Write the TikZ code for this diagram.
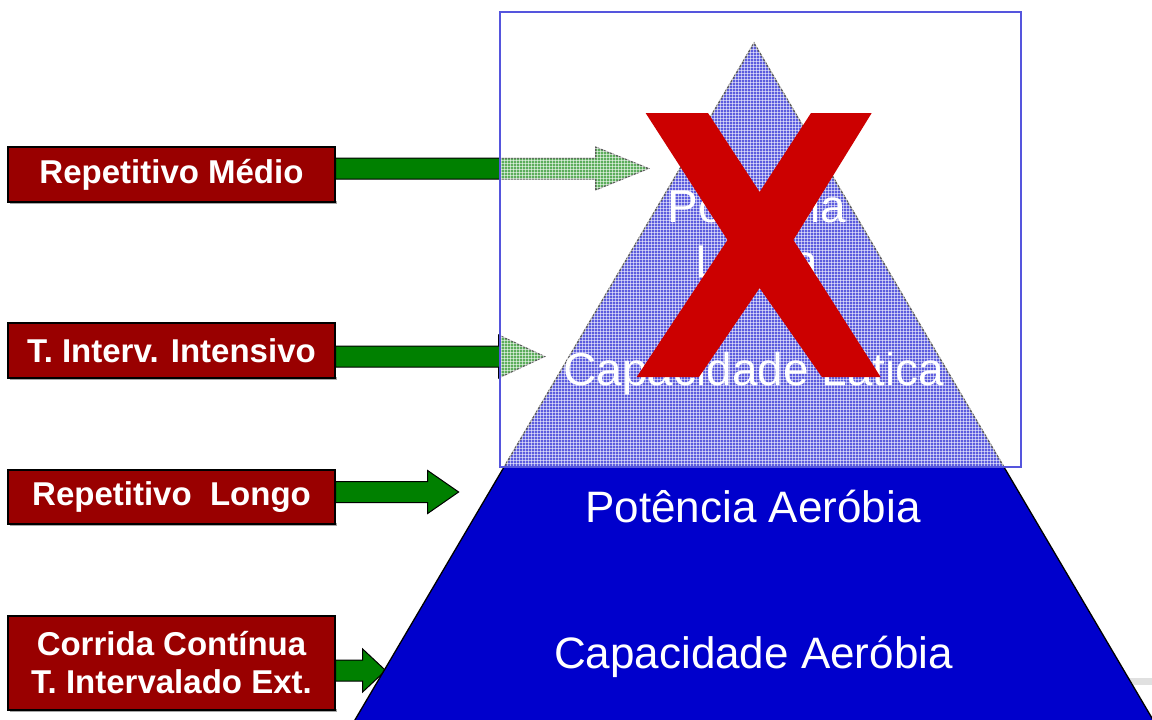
\documentclass[tikz,border=0pt]{standalone}
\usepackage{fontspec}
\setmainfont{Liberation Sans}
\usetikzlibrary{calc}
\definecolor{boxred}{RGB}{153,0,0}
\definecolor{arrgreen}{RGB}{0,128,0}
\definecolor{pyrblue}{RGB}{0,0,204}
\definecolor{framblue}{RGB}{85,85,221}
\definecolor{xred}{RGB}{204,0,0}
\newcommand\blockarr[3]{%
  \draw[blockarrow] ($#1+(0,-10.5)$) -- ++(#2,0) -- ++(0,-11) -- ++(#3,21.5) -- ++(-#3,21.5) -- ++(0,-11) -- ++(-#2,0) -- cycle;}
\begin{document}
\begin{tikzpicture}[x=1pt,y=-1pt,
  labelbox/.style={draw=black, line width=1.3pt, fill=boxred, text=white,
    font=\bfseries\fontsize{33}{38}\selectfont, align=center, inner sep=0pt,
    minimum width=327pt},
  blockarrow/.style={fill=arrgreen, draw=black, line width=1pt, line join=miter},
  pyrtext/.style={text=white, anchor=base, inner sep=0pt, align=center},
  hatchline/.style={white, line width=0.9pt, opacity=0.55}]
\useasboundingbox (0,0) rectangle (1152,720);
\clip (0,0) rectangle (1152,720);
\fill[white] (0,0) rectangle (1152,720);
% faint bar bottom right
\fill[black!12] (1128,678) rectangle (1152,685);
% label box shadows
\foreach \cy/\h in {174.5/55, 350.5/55, 497/54, 663/94}
  \fill[black!35] (10,\cy+\h/2-1) rectangle (337,\cy+\h/2+2);
% label boxes
\node[labelbox, minimum height=55pt] (b1) at (171.5,174.5) {Repetitivo Médio};
\node[labelbox, minimum height=55pt] (b2) at (171.5,350.5) {T. Interv. Intensivo};
\node[labelbox, minimum height=54pt] (b3) at (171.5,497) {Repetitivo\ \ Longo};
\node[labelbox, minimum height=94pt] (b4) at (171.5,663) {Corrida Contínua\\T. Intervalado Ext.};
% arrows
\blockarr{(b1.east)+(0,-6)}{260}{53}
\blockarr{(b2.east)+(0,6)}{163}{46}
\blockarr{(b3.east)+(0,-5)}{92}{31}
\blockarr{(b4.east)+(0,7.5)}{27}{23}
% pyramid
\coordinate (apex) at (754,43);
\coordinate (bl) at (349,730);
\coordinate (br) at (1159,730);
\draw[fill=pyrblue, draw=black, line width=1.3pt, line join=miter] (bl) -- (apex) -- (br) -- cycle;
\node[pyrtext, font=\fontsize{46}{55}\selectfont] (pl) at (757,277) {Potência\\Lática};
\node[pyrtext, font=\fontsize{46}{55}\selectfont] (cl) at (754,385) {Capacidade Lática};
\node[pyrtext, font=\fontsize{44}{52}\selectfont] (pa) at (753,522) {Potência Aeróbia};
\node[pyrtext, font=\fontsize{44}{52}\selectfont] (ca) at (753.5,668) {Capacidade Aeróbia};
% translucent hatched frame
\fill[white, fill opacity=0.36] (500,12) rectangle (1021,467);
\begin{scope}
  \clip (500,12) rectangle (1021,467);
  \draw[hatchline] \foreach \k in {0,...,174} { (501.5+3*\k,12) -- (501.5+3*\k,467) };
  \draw[hatchline] \foreach \k in {0,...,152} { (500,13.5+3*\k) -- (1021,13.5+3*\k) };
\end{scope}
\node[draw=framblue, line width=1.2pt, minimum width=521pt, minimum height=455pt, inner sep=0pt] (frame) at (760.5,239.5) {};
% red X
\fill[xred] (645.6,113) -- (708,113) -- (759.6,192) -- (811,113) -- (871.7,113) -- (793.4,240)
  -- (880.6,377) -- (821.9,377) -- (759.6,288) -- (699,377) -- (636.7,377) -- (727.5,240) -- cycle;
\end{tikzpicture}
\end{document}
